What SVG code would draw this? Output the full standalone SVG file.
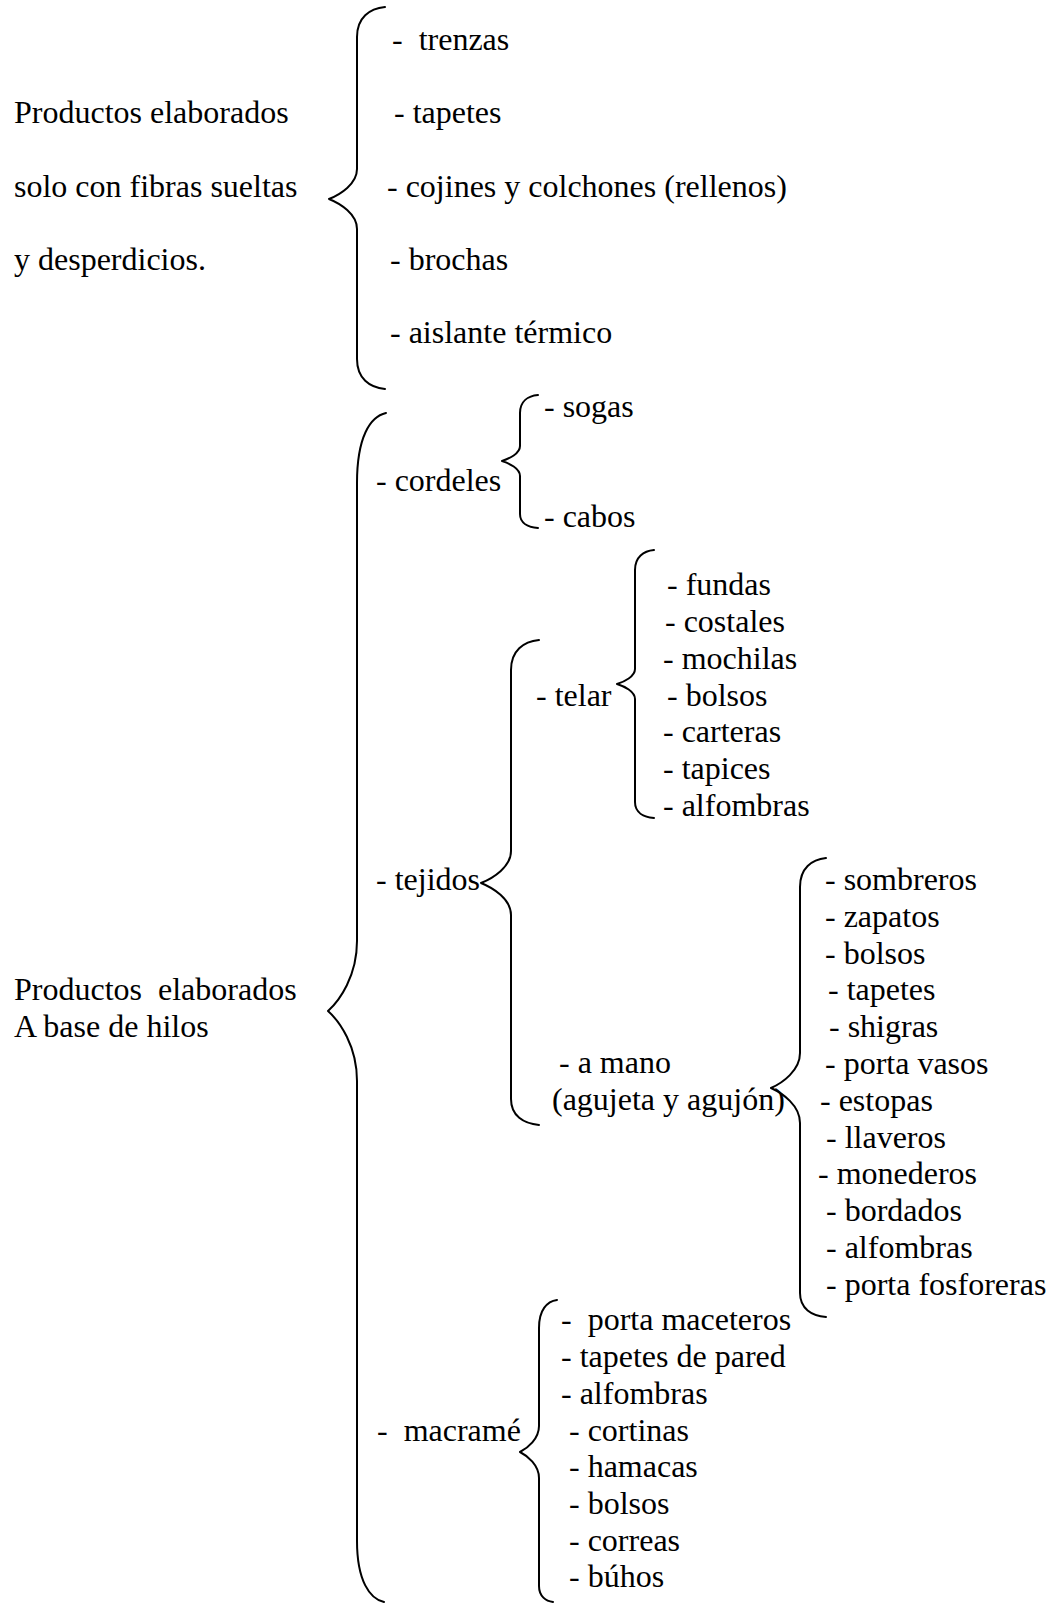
<svg xmlns="http://www.w3.org/2000/svg" width="1056" height="1604" viewBox="0 0 1056 1604" xml:space="preserve">
<style>
text { font-family: "Liberation Serif", "Times New Roman", serif; font-size: 32px; fill: #000; white-space: pre; }
.brace { fill: none; stroke: #000; stroke-width: 2; stroke-linecap: round; stroke-linejoin: round; }
</style>
<rect width="1056" height="1604" fill="#fff"/>
<g id="connectors">
<path id="brace-fibras" class="brace" d="M385,7 C369.6,8.5 357,17.5 357,37 L357,169 C357,184 340.2,194.5 329,199 C340.2,203.5 357,214 357,229 L357,359 C357,378.5 369.6,387.5 385,389"/>
<path id="brace-hilos" class="brace" d="M386,413 C370,416.5 357,437.5 357,483 L357,941 C357,976 339.6,1000.5 328,1011 C339.6,1021.5 357,1046 357,1081 L357,1541 C357,1581 370,1599 384,1602"/>
<path id="brace-cordeles" class="brace" d="M538,395 C528.1,395.9 520,401.3 520,413 L520,446 C520,453.5 509.2,458.75 502,461 C509.2,463.25 520,468.5 520,476 L520,514 C520,523.1 528.1,527.3 538,528"/>
<path id="brace-telar" class="brace" d="M654,550 C643.6,551 635,557 635,570 L635,669 C635,676.5 624.2,681.75 617,684 C624.2,686.25 635,691.5 635,699 L635,802 C635,812.4 643.6,817.2 654,818"/>
<path id="brace-tejidos" class="brace" d="M539,640 C523.6,641.5 511,650.5 511,670 L511,851 C511,867 493,878.2 481,883 C493,887.8 511,899 511,915 L511,1099 C511,1115.9 523.6,1123.7 539,1125"/>
<path id="brace-amano" class="brace" d="M826,858 C811.7,859.5 800,868.2 800,887 L800,1053 C800,1070.5 782.6,1082.75 771,1088 C782.6,1093.25 800,1105.5 800,1123 L800,1293 C800,1308.6 811.7,1315.8 826,1317"/>
<path id="brace-macrame" class="brace" d="M557,1300 C547.1,1301.4 539,1309.8 539,1328 L539,1426 C539,1439 527.6,1448.1 520,1452 C527.6,1455.9 539,1465 539,1478 L539,1586 C539,1596.4 546,1601.2 553,1602"/>
</g>
<g id="node-fibras">
<text x="14" y="123">Productos elaborados</text>
<text x="14" y="197">solo con fibras sueltas</text>
<text x="14" y="270">y desperdicios.</text>
</g>
<g id="node-fibras-items">
<text x="392" y="50">-  trenzas</text>
<text x="394" y="123">- tapetes</text>
<text x="387" y="197">- cojines y colchones (rellenos)</text>
<text x="390" y="270">- brochas</text>
<text x="390" y="343">- aislante térmico</text>
</g>
<g id="node-hilos">
<text x="14" y="1000">Productos  elaborados</text>
<text x="14" y="1037">A base de hilos</text>
</g>
<g id="node-cordeles">
<text x="376" y="491">- cordeles</text>
</g>
<g id="node-cordeles-items">
<text x="544" y="417">- sogas</text>
<text x="544" y="527">- cabos</text>
</g>
<g id="node-tejidos">
<text x="376" y="890">- tejidos</text>
</g>
<g id="node-telar">
<text x="536" y="706">- telar</text>
</g>
<g id="node-telar-items">
<text x="667" y="595">- fundas</text>
<text x="665" y="632">- costales</text>
<text x="663" y="669">- mochilas</text>
<text x="667" y="706">- bolsos</text>
<text x="663" y="742">- carteras</text>
<text x="663" y="779">- tapices</text>
<text x="663" y="816">- alfombras</text>
</g>
<g id="node-amano">
<text x="559" y="1073">- a mano</text>
<text x="552" y="1110">(agujeta y agujón)</text>
</g>
<g id="node-amano-items">
<text x="825" y="890">- sombreros</text>
<text x="825" y="927">- zapatos</text>
<text x="825" y="964">- bolsos</text>
<text x="828" y="1000">- tapetes</text>
<text x="829" y="1037">- shigras</text>
<text x="825" y="1074">- porta vasos</text>
<text x="820" y="1111">- estopas</text>
<text x="826" y="1148">- llaveros</text>
<text x="818" y="1184">- monederos</text>
<text x="826" y="1221">- bordados</text>
<text x="826" y="1258">- alfombras</text>
<text x="826" y="1295">- porta fosforeras</text>
</g>
<g id="node-macrame">
<text x="377" y="1441">-  macramé</text>
</g>
<g id="node-macrame-items">
<text x="561" y="1330">-  porta maceteros</text>
<text x="561" y="1367">- tapetes de pared</text>
<text x="561" y="1404">- alfombras</text>
<text x="569" y="1441">- cortinas</text>
<text x="569" y="1477">- hamacas</text>
<text x="569" y="1514">- bolsos</text>
<text x="569" y="1551">- correas</text>
<text x="569" y="1587">- búhos</text>
</g>
</svg>
